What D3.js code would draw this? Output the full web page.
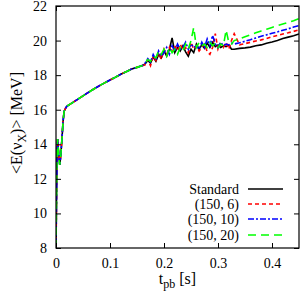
<!DOCTYPE html>
<html>
<head>
<meta charset="utf-8">
<script src="https://cdn.jsdelivr.net/npm/d3@7"></script>
<style>
  body { margin: 0; background: #fff; }
  text { font-family: "Liberation Serif", "DejaVu Serif", serif; }
</style>
</head>
<body>
<div id="chart"></div>
<script>
// time grids (s)
const tEarly = [0, 0.001, 0.002, 0.003, 0.005, 0.007, 0.009, 0.011, 0.013, 0.015, 0.018, 0.02,
  0.03, 0.04, 0.05, 0.06, 0.07, 0.08, 0.09, 0.1, 0.11, 0.12, 0.13, 0.14, 0.15, 0.16];
const tMid = [0.165, 0.17, 0.175, 0.18, 0.185, 0.19, 0.195, 0.2, 0.205, 0.21, 0.215, 0.22,
  0.225, 0.23, 0.235, 0.24, 0.245, 0.25, 0.255, 0.26, 0.265, 0.27, 0.275, 0.28, 0.285, 0.29,
  0.295, 0.3, 0.305, 0.31, 0.315, 0.32, 0.325, 0.33];
const tLate = [0.34, 0.35, 0.36, 0.37, 0.38, 0.39, 0.4, 0.41, 0.42, 0.43, 0.44, 0.45];

// shared early rise (MeV)
const eEarly = [8, 11, 13.6, 14.3, 13.4, 12.8, 13.4, 14.3, 15.3, 15.9, 16.1, 16.2,
  16.4, 16.6, 16.8, 17.0, 17.2, 17.38, 17.55, 17.72, 17.88, 18.05, 18.2, 18.35, 18.45, 18.55];

const stdMid = [18.65, 18.85, 18.7, 19.05, 18.8, 19.2, 19.0, 19.4, 19.1, 19.5, 20.15, 19.3,
  19.6, 19.4, 19.7, 19.35, 19.1, 19.5, 19.3, 19.8, 19.5, 19.75, 19.55, 19.85, 19.6, 19.9,
  19.65, 19.75, 19.6, 19.7, 19.65, 19.75, 19.5, 19.5];
const r6Mid = [18.6, 18.9, 18.55, 19.1, 18.85, 19.3, 18.9, 19.5, 19.2, 19.6, 19.3, 19.7,
  19.4, 19.8, 19.45, 19.6, 19.3, 19.9, 19.5, 19.7, 19.4, 19.6, 19.8, 19.35, 19.2, 19.6,
  20.4, 19.5, 19.8, 19.6, 19.9, 19.5, 20.0, 20.4];
const r10Mid = [18.7, 18.95, 18.75, 19.2, 18.9, 19.4, 19.1, 19.3, 19.6, 19.2, 19.7, 19.4,
  19.8, 19.5, 19.6, 19.9, 19.5, 19.8, 19.6, 19.7, 19.5, 19.9, 19.6, 20.1, 19.7, 20.3,
  19.8, 19.6, 19.9, 19.7, 19.8, 19.75, 19.85, 19.8];
const r20Mid = [18.7, 18.9, 18.8, 19.1, 19.0, 19.4, 19.2, 19.5, 19.1, 19.6, 19.3, 19.5,
  19.2, 19.6, 19.4, 19.8, 19.5, 20.0, 20.75, 19.6, 19.9, 19.7, 19.8, 19.6, 19.9, 19.7,
  19.85, 19.6, 19.8, 19.7, 20.6, 19.9, 19.8, 20.0];

const stdLate = [19.55, 19.58, 19.62, 19.7, 19.75, 19.85, 19.92, 20.0, 20.12, 20.2, 20.28, 20.38];
const r6Late = [19.75, 19.82, 19.9, 19.98, 20.04, 20.12, 20.22, 20.3, 20.38, 20.45, 20.53, 20.62];
const r10Late = [19.87, 19.96, 20.05, 20.15, 20.25, 20.33, 20.42, 20.5, 20.6, 20.68, 20.78, 20.87];
const r20Late = [20.1, 20.22, 20.34, 20.45, 20.56, 20.66, 20.76, 20.86, 20.96, 21.05, 21.15, 21.27];

const labels = ["Standard", "(150, 6)", "(150, 10)", "(150, 20)"];
const colors = ["#000000", "#ff0000", "#0000ff", "#00ff00"];
const dashes = [null, "4,3", "6,2,2,2", "8,5"];

const xTicks = [0, 0.1, 0.2, 0.3, 0.4];
const yTicks = [8, 10, 12, 14, 16, 18, 20, 22];

const width = 300, height = 297;
const margin = {left: 56, right: 1, top: 6, bottom: 49};

let svg = d3.select("#chart")
  .append("svg")
  .attr("width", width)
  .attr("height", height);

let x = d3.scaleLinear().domain([0, 0.45]).range([margin.left, width - margin.right]);
let y = d3.scaleLinear().domain([8, 22]).range([height - margin.bottom, margin.top]);

// build each series from the shared arrays
function series(mid, late) {
  let t = tEarly.concat(tMid, tLate);
  let e = eEarly.concat(mid, late);
  return t.map((d, i) => ({t: d, e: e[i]}));
}
let data = [series(stdMid, stdLate), series(r6Mid, r6Late),
  series(r10Mid, r10Late), series(r20Mid, r20Late)];

svg.append("clipPath").attr("id", "clip")
  .append("rect")
  .attr("x", margin.left).attr("y", margin.top)
  .attr("width", width - margin.left - margin.right)
  .attr("height", height - margin.top - margin.bottom);

let line = d3.line().x(d => x(d.t)).y(d => y(d.e));

svg.append("g").attr("clip-path", "url(#clip)")
  .selectAll("path")
  .data(data)
  .enter()
  .append("path")
  .attr("d", line)
  .attr("fill", "none")
  .attr("stroke", (d, i) => colors[i])
  .attr("stroke-width", 1.6)
  .attr("stroke-dasharray", (d, i) => dashes[i]);

// axes with inward ticks, mirrored on top and right
let plotH = height - margin.top - margin.bottom;
let plotW = width - margin.left - margin.right;

let xAxis = svg.append("g")
  .attr("transform", `translate(0, ${height - margin.bottom})`)
  .call(d3.axisBottom(x).tickValues(xTicks).tickSize(-5).tickPadding(10)
    .tickFormat(d3.format("")));
svg.append("g")
  .attr("transform", `translate(0, ${margin.top})`)
  .call(d3.axisTop(x).tickValues(xTicks).tickSize(-5).tickFormat(""));

let yAxis = svg.append("g")
  .attr("transform", `translate(${margin.left}, 0)`)
  .call(d3.axisLeft(y).tickValues(yTicks).tickSize(-5).tickPadding(9));
svg.append("g")
  .attr("transform", `translate(${width - margin.right}, 0)`)
  .call(d3.axisRight(y).tickValues(yTicks).tickSize(-5).tickFormat(""));

svg.selectAll(".domain").remove();
svg.selectAll(".tick line").attr("stroke", "#000");
svg.selectAll(".tick text")
  .attr("fill", "#000")
  .style("font-size", "14px")
  .style("font-family", "'Liberation Serif', serif");
xAxis.selectAll(".tick text").attr("dy", "0.71em");

// frame
svg.append("rect")
  .attr("x", margin.left).attr("y", margin.top)
  .attr("width", plotW).attr("height", plotH)
  .attr("fill", "none").attr("stroke", "#000").attr("stroke-width", 1.2);

// x-axis label
let xl = svg.append("text")
  .attr("x", margin.left + plotW / 2)
  .attr("y", 284)
  .style("text-anchor", "middle")
  .style("font-size", "16px");
xl.append("tspan").text("t");
xl.append("tspan").attr("dy", 4).style("font-size", "12px").text("pb");
xl.append("tspan").attr("dy", -4).text(" [s]");

// y-axis label
let yl = svg.append("text")
  .attr("transform", `translate(22, ${margin.top + plotH / 2 - 4}) rotate(-90)`)
  .style("text-anchor", "middle")
  .style("font-size", "16px");
yl.append("tspan").text("<E(ν");
yl.append("tspan").attr("dy", 4).style("font-size", "12px").text("X");
yl.append("tspan").attr("dy", -4).text(")> [MeV]");

// legend
let legend = svg.append("g");
let legendY = [189, 204, 219, 235];
labels.forEach((name, i) => {
  legend.append("text")
    .attr("x", 239)
    .attr("y", legendY[i] + 4.5)
    .style("text-anchor", "end")
    .style("font-size", "14px")
    .text(name);
  legend.append("line")
    .attr("x1", 248).attr("x2", 283)
    .attr("y1", legendY[i]).attr("y2", legendY[i])
    .attr("stroke", colors[i])
    .attr("stroke-width", 1.6)
    .attr("stroke-dasharray", dashes[i]);
});
</script>
</body>
</html>
